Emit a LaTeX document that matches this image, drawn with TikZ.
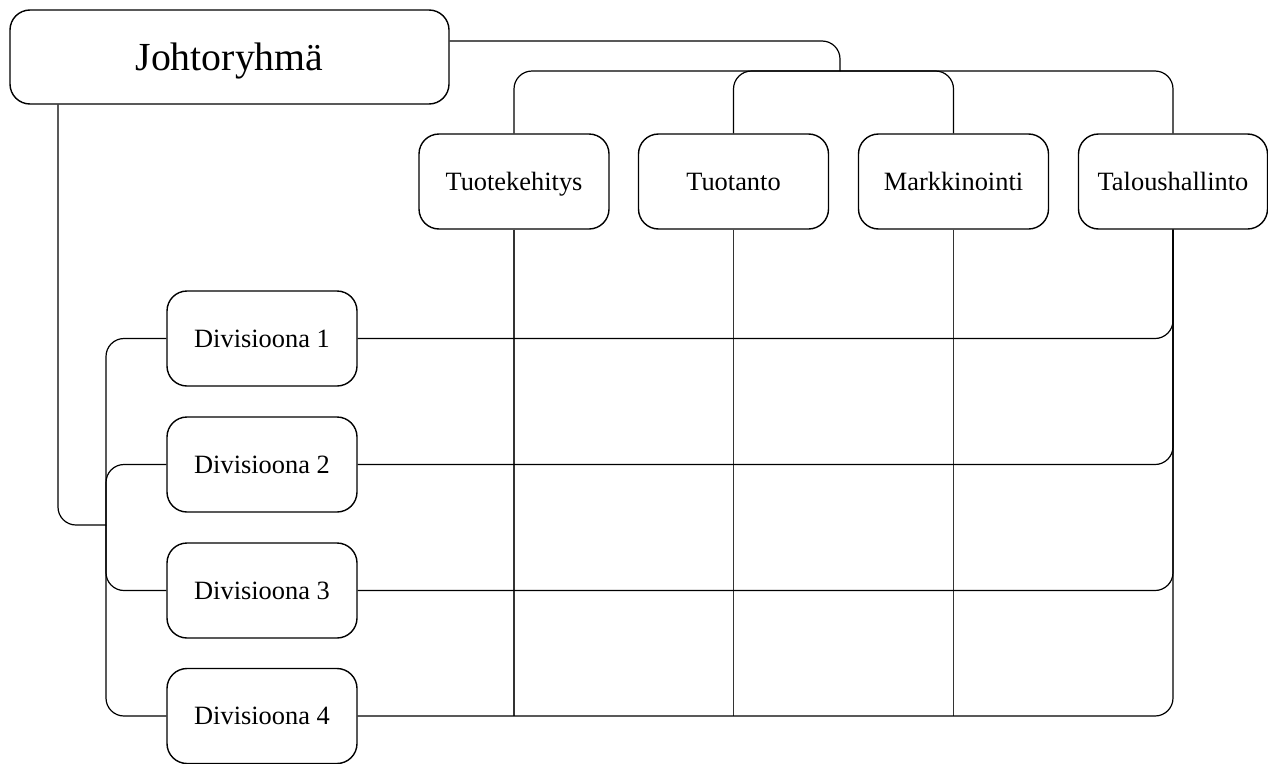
\documentclass[tikz,border=0pt]{standalone}
\usepackage{fontspec}
\setmainfont{Liberation Serif}
\begin{document}
\begin{tikzpicture}[x=1pt,y=-1pt,
  unitbox/.style={draw,line width=1.4pt,rounded corners=20pt,minimum width=190pt,
    minimum height=95pt,inner sep=0pt,text height=17.4pt,text depth=0pt,
    font=\fontsize{26.4}{30}\selectfont},
  headbox/.style={unitbox,minimum width=439pt,minimum height=94pt,
    text height=26.3pt,font=\fontsize{39.8}{46}\selectfont},
  link/.style={line width=1.2pt,rounded corners=18pt},
  grid/.style={line width=1.1pt,draw=black!80}]
\useasboundingbox (0,0) rectangle (1268,763);

% management group
\node[headbox] (J) at (229.5,57) {Johtoryhmä};

% functional units
\node[unitbox] (T1) at (514,181.5) {Tuotekehitys};
\node[unitbox] (T2) at (733.5,181.5) {Tuotanto};
\node[unitbox] (T3) at (953.5,181.5) {Markkinointi};
\node[unitbox,minimum width=189pt] (T4) at (1173,181.5) {Taloushallinto};

% divisions
\node[unitbox] (D1) at (262,338.5) {Divisioona 1};
\node[unitbox] (D2) at (262,464.5) {Divisioona 2};
\node[unitbox] (D3) at (262,590.5) {Divisioona 3};
\node[unitbox] (D4) at (262,716) {Divisioona 4};

% branching points
\coordinate (top) at (840,71);
\coordinate (left) at (106,525);

% management to functions
\draw[link] ([yshift=16pt]J.east) -| (top);
\foreach \t in {T1,T2,T3,T4} \draw[link] (top) -| (\t.north);

% management to divisions
\draw[link] ([xshift=-171.5pt]J.south) |- (left);
\foreach \d in {D1,D2,D3,D4} \draw[link] (left) |- (\d.west);

% matrix lines
\foreach \t in {T1,T2,T3} \draw[grid] (\t.south) -- (\t.south |- D4.west);
\foreach \d in {D1,D2,D3,D4} \draw[link] (\d.east) -| (T4.south);
\end{tikzpicture}
\end{document}
